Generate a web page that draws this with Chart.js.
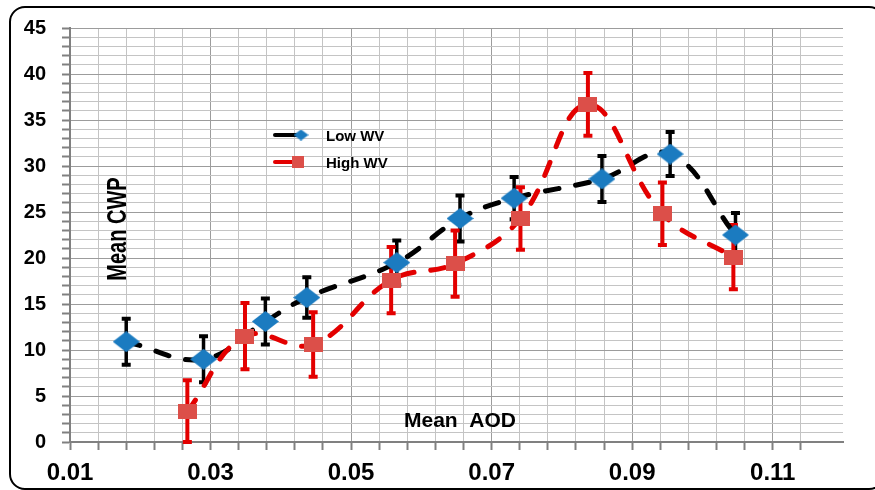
<!DOCTYPE html>
<html>
<head>
<meta charset="utf-8">
<script src="https://cdn.jsdelivr.net/npm/chart.js@4/dist/chart.umd.min.js"></script>
<style>
html,body{margin:0;padding:0;background:#fff;}
#wrap{position:relative;width:875px;height:490px;}
</style>
</head>
<body>
<div id="wrap"><canvas id="c" width="875" height="490"></canvas></div>
<script>
// ---- data ----
const seriesNames = ['Low WV', 'High WV'];
const lowX   = [0.018, 0.029, 0.0378, 0.0437, 0.0565, 0.0655, 0.0732, 0.0857, 0.0954, 0.1047];
const lowY   = [10.9, 9.0, 13.1, 15.7, 19.5, 24.3, 26.5, 28.6, 31.3, 22.5];
const lowErr = [2.5, 2.5, 2.5, 2.2, 2.4, 2.5, 2.3, 2.5, 2.4, 2.4];
const highX   = [0.0267, 0.0349, 0.0446, 0.0557, 0.0648, 0.0741, 0.0837, 0.0943, 0.1044];
const highY   = [3.3, 11.5, 10.6, 17.6, 19.4, 24.3, 36.7, 24.8, 20.1];
const highErr = [3.4, 3.6, 3.5, 3.6, 3.6, 3.4, 3.4, 3.4, 3.5];
const xTickLabels = ['0.01', '0.03', '0.05', '0.07', '0.09', '0.11'];
const yTickLabels = ['0', '5', '10', '15', '20', '25', '30', '35', '40', '45'];
const xTitle = 'Mean  AOD';
const yTitle = 'Mean CWP';

// ---- styling ----
const FONT = "'Liberation Sans', Arial, sans-serif";
const BLUE = '#1b7bc0';
const SQRED = '#dc4f49';
const LINERED = '#e30000';
const X_MIN = 0.01, X_MAX = 0.12, X_MINOR = 0.004;
const Y_MIN = 0, Y_MAX = 45;

function makeDiamond(w, h, color) {
  const c = document.createElement('canvas');
  c.width = w; c.height = h;
  const g = c.getContext('2d');
  g.fillStyle = color;
  g.beginPath();
  g.moveTo(w / 2, 0); g.lineTo(w, h / 2); g.lineTo(w / 2, h); g.lineTo(0, h / 2);
  g.closePath(); g.fill();
  return c;
}
function makeRect(w, h, color) {
  const c = document.createElement('canvas');
  c.width = w; c.height = h;
  const g = c.getContext('2d');
  g.fillStyle = color; g.fillRect(0, 0, w, h);
  return c;
}
const diamondImg = makeDiamond(27, 21, BLUE);
const squareImg = makeRect(19, 15, SQRED);
const diamondLeg = makeDiamond(15, 11, BLUE);
const squareLeg = makeRect(12, 12, SQRED);

const xMajor = xTickLabels.map(Number);
function isXMajor(v) { return xMajor.some(m => Math.abs(m - v) < 1e-6); }
function isYMajor(v) { return yTickLabels.map(Number).includes(v); }

const errBarsPlugin = {
  id: 'errBars',
  beforeDatasetsDraw(chart) {
    const ctx = chart.ctx, sx = chart.scales.x, sy = chart.scales.y;
    const draw = (xs, ys, es, color, w) => {
      ctx.save();
      ctx.strokeStyle = color; ctx.lineCap = 'butt';
      xs.forEach((x, i) => {
        const px = sx.getPixelForValue(x);
        const top = sy.getPixelForValue(ys[i] + es[i]);
        const bot = sy.getPixelForValue(Math.max(Y_MIN, ys[i] - es[i]));
        ctx.lineWidth = w;
        ctx.beginPath(); ctx.moveTo(px, top); ctx.lineTo(px, bot); ctx.stroke();
        ctx.lineWidth = 4;
        ctx.beginPath();
        ctx.moveTo(px - 4.5, top); ctx.lineTo(px + 4.5, top);
        ctx.moveTo(px - 4.5, bot); ctx.lineTo(px + 4.5, bot);
        ctx.stroke();
      });
      ctx.restore();
    };
    // axis titles inside plot
    ctx.save();
    ctx.fillStyle = '#000';
    ctx.font = 'bold 21px ' + FONT;
    ctx.textAlign = 'center'; ctx.textBaseline = 'alphabetic';
    ctx.fillText(xTitle, 460, 427);
    ctx.translate(118, 229);
    ctx.rotate(-Math.PI / 2);
    ctx.scale(1, 1.42);
    ctx.font = 'bold 20px ' + FONT;
    ctx.textBaseline = 'middle';
    ctx.fillText(yTitle, 0, 0);
    ctx.restore();

    draw(lowX, lowY, lowErr, '#000', 3.5);
    draw(highX, highY, highErr, LINERED, 4);
  },
  afterDraw(chart) {
    const ctx = chart.ctx;
    ctx.save();
    // legend
    ctx.lineCap = 'round';
    ctx.lineWidth = 4;
    ctx.strokeStyle = '#000';
    ctx.beginPath(); ctx.moveTo(275, 135); ctx.lineTo(296, 135); ctx.stroke();
    ctx.drawImage(diamondLeg, 301 - 7.5, 135 - 5.5);
    ctx.strokeStyle = LINERED;
    ctx.beginPath(); ctx.moveTo(275, 162); ctx.lineTo(293, 162); ctx.stroke();
    ctx.drawImage(squareLeg, 298 - 6, 162 - 6);
    ctx.fillStyle = '#000';
    ctx.font = 'bold 15px ' + FONT;
    ctx.textAlign = 'left'; ctx.textBaseline = 'alphabetic';
    ctx.fillText(seriesNames[0], 326, 141);
    ctx.fillText(seriesNames[1], 326, 168);
    // outer rounded frame
    ctx.lineWidth = 2;
    ctx.strokeStyle = '#000';
    ctx.beginPath();
    ctx.roundRect(10, 7, 874, 482, 15);
    ctx.stroke();
    ctx.restore();
  }
};

const ctxEl = document.getElementById('c');
new Chart(ctxEl, {
  type: 'line',
  data: {
    datasets: [
      {
        label: seriesNames[0],
        data: lowX.map((x, i) => ({ x: x, y: lowY[i] })),
        borderColor: '#000',
        borderWidth: 5,
        borderDash: [14, 17],
        borderCapStyle: 'round',
        tension: 0.4,
        pointStyle: diamondImg,
        pointRadius: 10,
        order: 2
      },
      {
        label: seriesNames[1],
        data: highX.map((x, i) => ({ x: x, y: highY[i] })),
        borderColor: LINERED,
        borderWidth: 5,
        borderDash: [14, 17],
        borderCapStyle: 'round',
        tension: 0.4,
        pointStyle: squareImg,
        pointRadius: 10,
        order: 1
      }
    ]
  },
  options: {
    responsive: false,
    animation: false,
    devicePixelRatio: 1,
    layout: { padding: { left: 0, right: 32, top: 27, bottom: 0 } },
    plugins: { legend: { display: false }, tooltip: { enabled: false } },
    scales: {
      x: {
        type: 'linear',
        min: X_MIN, max: X_MAX,
        afterFit(scale) { scale.height = 48; },
        afterBuildTicks(scale) {
          const t = [];
          const n = Math.floor((X_MAX - X_MIN) / X_MINOR + 1e-9);
          for (let i = 0; i < n; i++) t.push({ value: +(X_MIN + i * X_MINOR).toFixed(4) });
          scale.ticks = t;
        },
        grid: {
          color: c => (c.tick && isXMajor(c.tick.value)) ? '#9c9c9c' : '#c4c4c4',
          lineWidth: 1,
          tickLength: 8,
          tickColor: '#808080',
          tickWidth: 2
        },
        border: { color: '#808080', width: 2 },
        ticks: {
          autoSkip: false,
          maxRotation: 0,
          padding: 9,
          color: '#000',
          font: { family: FONT, size: 24, weight: 'bold' },
          callback: v => isXMajor(v) ? xTickLabels[xMajor.findIndex(m => Math.abs(m - v) < 1e-6)] : ''
        }
      },
      y: {
        type: 'linear',
        min: Y_MIN, max: Y_MAX,
        afterFit(scale) { scale.width = 70; },
        grid: {
          color: c => (c.tick && isYMajor(c.tick.value)) ? '#9c9c9c' : '#c4c4c4',
          lineWidth: 1,
          tickLength: 8,
          tickColor: '#808080',
          tickWidth: 2
        },
        border: { color: '#808080', width: 2 },
        ticks: {
          stepSize: 1,
          autoSkip: false,
          padding: 16,
          color: '#000',
          font: { family: FONT, size: 20, weight: 'bold' },
          callback: v => isYMajor(v) ? String(v) : ''
        }
      }
    }
  },
  plugins: [errBarsPlugin]
});
</script>
</body>
</html>
